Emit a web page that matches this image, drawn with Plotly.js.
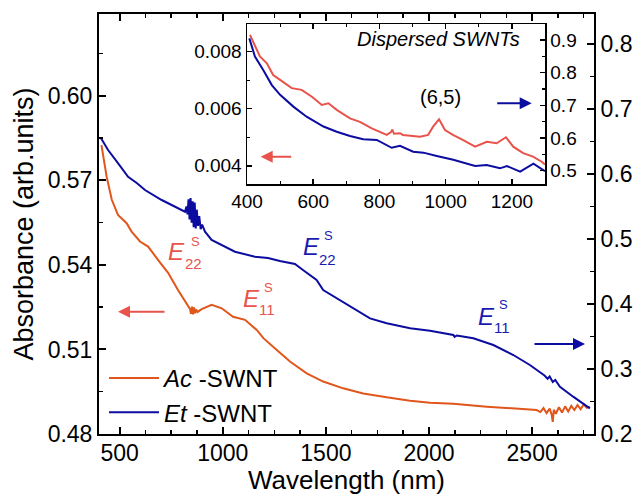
<!DOCTYPE html>
<html>
<head>
<meta charset="utf-8">
<script src="https://cdn.plot.ly/plotly-3.0.1.min.js"></script>
<style>html,body{margin:0;padding:0;background:#fff;}#chart{width:636px;height:495px;}</style>
</head>
<body>
<div id="chart"></div>
<script>
// ---- Main panel: Ac-SWNT (left axis) ----
const acWavelength = [412, 437, 462, 492, 534, 558, 599, 638, 686, 735, 783, 825, 841, 846, 851, 856, 861, 866, 871, 878, 898, 946, 995, 1050, 1108, 1165, 1197, 1262, 1326, 1407, 1487, 1584, 1681, 1795, 1908, 2005, 2118, 2280, 2441, 2522, 2540, 2555, 2570, 2585, 2595, 2600, 2605, 2615, 2630, 2645, 2660, 2675, 2690, 2705, 2720, 2735, 2750, 2765, 2780];
const acAbsorbance = [0.5825, 0.5713, 0.5631, 0.5577, 0.5548, 0.5518, 0.5483, 0.5465, 0.5418, 0.5372, 0.5311, 0.5265, 0.5244, 0.5226, 0.5252, 0.5224, 0.5249, 0.5228, 0.5242, 0.5233, 0.5243, 0.5258, 0.5246, 0.5216, 0.5205, 0.5169, 0.5140, 0.5098, 0.5057, 0.5015, 0.4986, 0.4962, 0.4944, 0.4930, 0.4918, 0.4911, 0.4907, 0.4897, 0.4889, 0.4885, 0.4878, 0.4892, 0.4874, 0.4890, 0.4868, 0.4843, 0.4886, 0.4872, 0.4895, 0.4876, 0.4898, 0.4880, 0.4900, 0.4885, 0.4903, 0.4888, 0.4905, 0.4893, 0.4897];

// ---- Main panel: Et-SWNT (right axis) ----
const etWavelength = [410, 444, 492, 541, 583, 623, 704, 768, 817, 824, 829, 834, 839, 844, 849, 854, 859, 864, 869, 874, 880, 886, 893, 900, 914, 946, 995, 1059, 1156, 1219, 1277, 1350, 1389, 1455, 1487, 1568, 1649, 1714, 1795, 1908, 2005, 2118, 2124, 2135, 2215, 2312, 2409, 2489, 2560, 2575, 2585, 2600, 2612, 2635, 2699, 2780];
const etAbsorbance = [0.6548, 0.6368, 0.6168, 0.5957, 0.5860, 0.5753, 0.5599, 0.5496, 0.5419, 0.5500, 0.5380, 0.5610, 0.5300, 0.5630, 0.5250, 0.5580, 0.5180, 0.5560, 0.5160, 0.5450, 0.5200, 0.5350, 0.5150, 0.5220, 0.5111, 0.4984, 0.4907, 0.4804, 0.4727, 0.4707, 0.4660, 0.4615, 0.4522, 0.4369, 0.4215, 0.4061, 0.3907, 0.3779, 0.3703, 0.3626, 0.3589, 0.3523, 0.3495, 0.3515, 0.3472, 0.3369, 0.3215, 0.3061, 0.2900, 0.2850, 0.2885, 0.2800, 0.2830, 0.2727, 0.2574, 0.2395];

// ---- Inset: dispersed SWNTs ----
const insetAcWavelength = [409, 424, 439, 460, 479, 500, 535, 565, 596, 626, 646, 671, 711, 741, 777, 822, 835, 839, 844, 862, 871, 923, 947, 962, 980, 998, 1022, 1053, 1089, 1124, 1154, 1182, 1204, 1234, 1264, 1290, 1300];
const insetAcAbsorbance = [0.00859, 0.00818, 0.00783, 0.00759, 0.00718, 0.00701, 0.00672, 0.00666, 0.00642, 0.00613, 0.00619, 0.00596, 0.00566, 0.00554, 0.00531, 0.00508, 0.00518, 0.00527, 0.00512, 0.00514, 0.00508, 0.00502, 0.00508, 0.00537, 0.00563, 0.00525, 0.00508, 0.00490, 0.00467, 0.00484, 0.00479, 0.00500, 0.00467, 0.00444, 0.00432, 0.00414, 0.00404];
const insetEtWavelength = [407, 424, 449, 475, 500, 540, 580, 605, 631, 671, 711, 751, 792, 837, 862, 902, 933, 973, 1023, 1089, 1124, 1164, 1185, 1225, 1265, 1300];
const insetEtAbsorbance = [0.905, 0.849, 0.808, 0.762, 0.732, 0.696, 0.665, 0.650, 0.635, 0.619, 0.606, 0.596, 0.594, 0.570, 0.576, 0.558, 0.555, 0.545, 0.533, 0.514, 0.517, 0.507, 0.514, 0.497, 0.521, 0.498];

const seriesNames = ['<i>Ac</i> -SWNT', '<i>Et</i> -SWNT'];
const xTitle = 'Wavelength (nm)';
const yTitle = 'Absorbance (arb.units)';

const ORANGE = '#e0561b', BLUE = '#0c0ca0', RED = '#e8534b', TBLUE = '#1a1ab0';
const FONT = 'Liberation Sans, Arial, sans-serif';

const traces = [
  {x: acWavelength, y: acAbsorbance, xaxis: 'x', yaxis: 'y', type: 'scatter', mode: 'lines', name: seriesNames[0], line: {color: ORANGE, width: 2}},
  {x: etWavelength, y: etAbsorbance, xaxis: 'x', yaxis: 'y2', type: 'scatter', mode: 'lines', name: seriesNames[1], line: {color: BLUE, width: 2}},
  {x: insetAcWavelength, y: insetAcAbsorbance, xaxis: 'x2', yaxis: 'y3', type: 'scatter', mode: 'lines', showlegend: false, line: {color: RED, width: 2}},
  {x: insetEtWavelength, y: insetEtAbsorbance, xaxis: 'x2', yaxis: 'y4', type: 'scatter', mode: 'lines', showlegend: false, line: {color: BLUE, width: 2}}
];

const axBase = {showline: true, linecolor: '#000', linewidth: 2, ticks: 'inside', tickcolor: '#000', tickwidth: 2, ticklen: 7, showgrid: false, zeroline: false, fixedrange: true};

function P(px) { return (px - 99) / 495; }
function Q(py) { return (434 - py) / 420; }

function txt(text, px, py, size, color, xanchor, italic) {
  return {text: italic ? '<i>' + text + '</i>' : text, xref: 'paper', yref: 'paper', x: P(px), y: Q(py), xanchor: xanchor, yanchor: 'middle', showarrow: false, borderpad: 0, font: {family: FONT, size: size, color: color}};
}
function arrow(hx, hy, ax, color) {
  return {text: '', xref: 'paper', yref: 'paper', x: P(hx), y: Q(hy), ax: ax, ay: 0, showarrow: true, arrowhead: 2, arrowsize: 1.2, arrowwidth: 2, arrowcolor: color};
}

const annotations = [
  // x-axis title
  txt(xTitle, 346, 479.5, 26, '#000', 'center'),
  // red E22
  txt('E', 167, 251.5, 24, RED, 'left', true), txt('S', 190, 241.5, 13, RED, 'left'), txt('22', 184, 263, 15, RED, 'left'),
  // red E11
  txt('E', 242, 298, 24, RED, 'left', true), txt('S', 263, 287, 13, RED, 'left'), txt('11', 258, 309, 15, RED, 'left'),
  // blue E22
  txt('E', 302, 246.5, 24, TBLUE, 'left', true), txt('S', 323, 235.5, 13, TBLUE, 'left'), txt('22', 318, 259, 15, TBLUE, 'left'),
  // blue E11
  txt('E', 477, 316, 24, TBLUE, 'left', true), txt('S', 498, 304.5, 13, TBLUE, 'left'), txt('11', 493, 327, 15, TBLUE, 'left'),
  // inset labels
  txt('Dispersed SWNTs', 438.5, 39, 20, '#000', 'center', true),
  txt('(6,5)', 440, 97, 20, '#000', 'center'),
  // arrows
  arrow(118, 311.7, 48, RED),
  arrow(585, 344, -52, BLUE),
  arrow(260.7, 156.7, 32, RED),
  arrow(531.7, 103.3, -36, BLUE)
];

const layout = {
  width: 636, height: 495,
  margin: {l: 99, r: 42, t: 14, b: 61, pad: 0},
  paper_bgcolor: '#fff', plot_bgcolor: '#fff',
  font: {family: FONT, color: '#000'},
  showlegend: true,
  legend: {x: P(104), y: Q(356), xanchor: 'left', yanchor: 'top', bgcolor: 'rgba(0,0,0,0)', font: {family: FONT, size: 24, color: '#000'}, itemwidth: 50, tracegroupgap: 0},
  xaxis: Object.assign({}, axBase, {domain: [0, 1], anchor: 'y', range: [400, 2800], tick0: 500, dtick: 500, mirror: 'ticks', ticklabelstandoff: -3,
    minor: {dtick: 125, ticks: 'inside', ticklen: 4, tickwidth: 1.5, tickcolor: '#000'},
    tickfont: {size: 23, family: FONT}}),
  yaxis: Object.assign({}, axBase, {domain: [0, 1], anchor: 'x', range: [0.48, 0.629], tick0: 0.48, dtick: 0.03, tickformat: '.2f',
    minor: {dtick: 0.015, ticks: 'inside', ticklen: 4, tickwidth: 1.5, tickcolor: '#000'},
    tickfont: {size: 23, family: FONT}, title: {text: yTitle, font: {size: 27, family: FONT}, standoff: 6}}),
  yaxis2: Object.assign({}, axBase, {overlaying: 'y', side: 'right', anchor: 'x', range: [0.2, 0.846], tick0: 0.2, dtick: 0.1, tickformat: '.1f',
    minor: {dtick: 0.05, ticks: 'inside', ticklen: 4, tickwidth: 1.5, tickcolor: '#000'},
    tickfont: {size: 23, family: FONT}}),
  xaxis2: Object.assign({}, axBase, {domain: [P(247), P(545)], anchor: 'y3', range: [400, 1300], tick0: 400, dtick: 200, mirror: 'ticks', linewidth: 1.5, tickwidth: 1.5, ticklen: 5,
    minor: {dtick: 100, ticks: 'inside', ticklen: 3, tickwidth: 1.2, tickcolor: '#000'},
    tickfont: {size: 19, family: FONT}}),
  yaxis3: Object.assign({}, axBase, {domain: [Q(184), Q(24)], anchor: 'x2', range: [0.00336, 0.00897], tick0: 0.004, dtick: 0.002, tickformat: '.3f', linewidth: 1.5, tickwidth: 1.5, ticklen: 5,
    minor: {dtick: 0.001, ticks: 'inside', ticklen: 3, tickwidth: 1.2, tickcolor: '#000'},
    tickfont: {size: 19, family: FONT}}),
  yaxis4: Object.assign({}, axBase, {overlaying: 'y3', side: 'right', anchor: 'x2', range: [0.459, 0.949], tick0: 0.5, dtick: 0.1, tickformat: '.1f', linewidth: 1.5, tickwidth: 1.5, ticklen: 5,
    minor: {dtick: 0.05, ticks: 'inside', ticklen: 3, tickwidth: 1.2, tickcolor: '#000'},
    tickfont: {size: 19, family: FONT}}),
  annotations: annotations
};

Plotly.newPlot('chart', traces, layout, {staticPlot: true, displayModeBar: false});
</script>
</body>
</html>
